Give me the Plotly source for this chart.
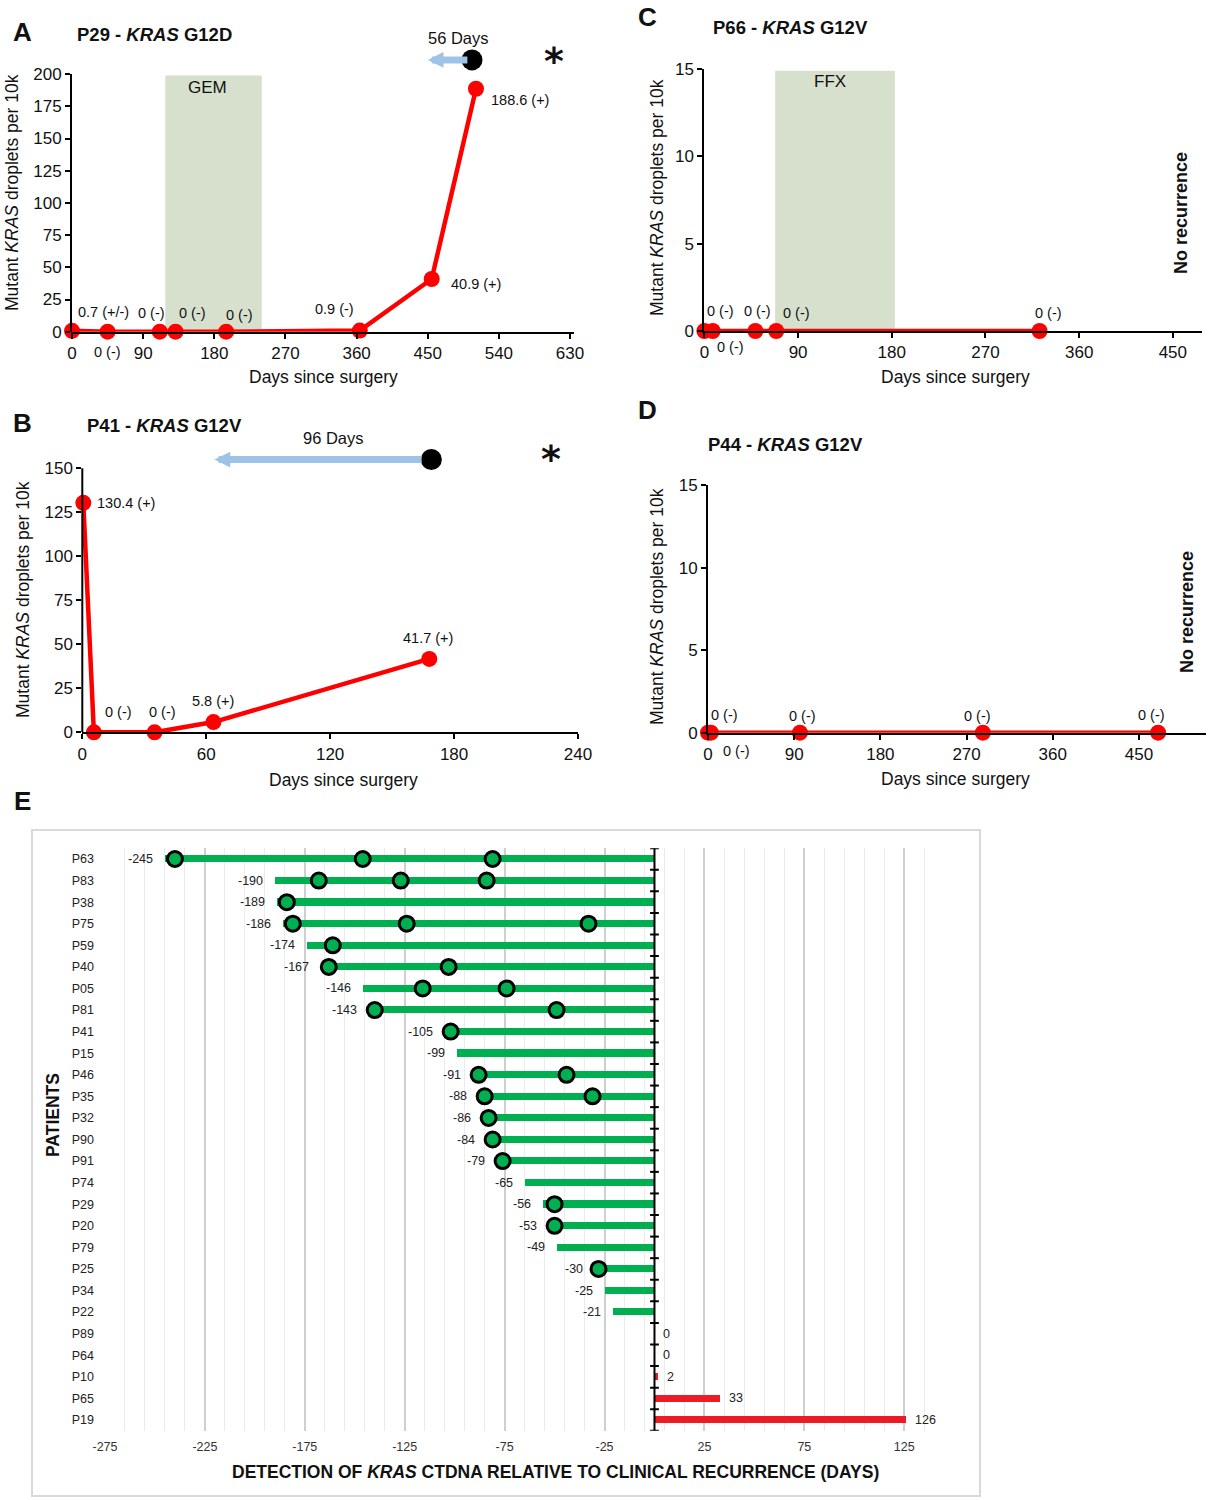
import plotly.graph_objects as go

W, H = 1211, 1500
FONT = "Liberation Sans, Arial, sans-serif"
RED = "#ff0000"
BAR_RED = "#ed1c24"
GREEN = "#00b050"
BOX = "#d6e0cc"
ARROW = "#9dc3e6"

# ---- Panel A : P29 - KRAS G12D
a_days = [0, 45, 111, 131, 195, 364, 455, 511]
a_vals = [0.7, 0, 0, 0, 0, 0.9, 40.9, 188.6]
a_text = ["0.7 (+/-)", "0 (-)", "0 (-)", "0 (-)", "0 (-)", "0.9 (-)", "40.9 (+)", "188.6 (+)"]
a_gem = [118, 240]
a_recur = 506
a_arrow_tip = 450

# ---- Panel B : P41 - KRAS G12V
b_days = [0.5, 5.6, 35, 63.5, 168]
b_vals = [130.4, 0, 0, 5.8, 41.7]
b_text = ["130.4 (+)", "0 (-)", "0 (-)", "5.8 (+)", "41.7 (+)"]
b_recur = 169
b_arrow_tip = 64

# ---- Panel C : P66 - KRAS G12V
c_days = [0, 8, 49, 69, 322]
c_vals = [0, 0, 0, 0, 0]
c_text = ["0 (-)"] * 5
c_ffx = [68, 183]

# ---- Panel D : P44 - KRAS G12V
d_days = [0, 3, 96, 287, 470]
d_vals = [0, 0, 0, 0, 0]
d_text = ["0 (-)"] * 5

# ---- Panel E : lead time per patient
patients = ["P63", "P83", "P38", "P75", "P59", "P40", "P05", "P81", "P41", "P15",
            "P46", "P35", "P32", "P90", "P91", "P74", "P29", "P20", "P79", "P25",
            "P34", "P22", "P89", "P64", "P10", "P65", "P19"]
lead_days = [-245, -190, -189, -186, -174, -167, -146, -143, -105, -99,
             -91, -88, -86, -84, -79, -65, -56, -53, -49, -30,
             -25, -21, 0, 0, 2, 33, 126]
detections = [[-240, -146, -81], [-168, -127, -84], [-184], [-181, -124, -33],
              [-161], [-163, -103], [-116, -74], [-140, -49], [-102], [],
              [-88, -44], [-85, -31], [-83], [-81], [-76], [], [-50], [-50], [],
              [-28], [], [], [], [], [], [], []]
e_ticks = list(range(-275, 126, 50))

# label pixel offsets (style only)
a_off = [(31, -19), (0, 20), (-8, -19), (17, -19), (13, -17), (-25, -22), (44, 5), (44, 11)]
b_off = [(43, 0), (25, -20), (8, -20), (0, -21), (-1, -21)]
c_off = [(26, 16), (8, -20), (2, -20), (20, -18), (9, -18)]
d_off = [(28, 18), (14, -18), (3, -17), (-5, -17), (-7, -18)]


def px(x):
    return x / W


def py(y):
    return 1 - y / H


annots = []
shapes = []


def ptext(x, y, text, size, angle=0, family=None):
    f = dict(size=size, color="#111")
    if family:
        f["family"] = family
    annots.append(dict(x=px(x), y=py(y), xref="paper", yref="paper", text=text, showarrow=False,
                       xanchor="center", yanchor="middle", textangle=angle, font=f))


fig = go.Figure()

panels = [
    ("x", "y", a_days, a_vals, a_text, a_off),
    ("x2", "y2", b_days, b_vals, b_text, b_off),
    ("x3", "y3", c_days, c_vals, c_text, c_off),
    ("x4", "y4", d_days, d_vals, d_text, d_off),
]
for xr, yr, days, vals, texts, offs in panels:
    fig.add_trace(go.Scatter(
        x=days, y=vals, xaxis=xr, yaxis=yr, mode="lines+markers",
        line=dict(color=RED, width=4.5), marker=dict(color=RED, size=16),
        cliponaxis=False, hoverinfo="skip"))
    for d, v, t, (dx, dy) in zip(days, vals, texts, offs):
        annots.append(dict(x=d, y=v, xref=xr, yref=yr, text=t, showarrow=False,
                           xanchor="center", yanchor="middle",
                           xshift=dx, yshift=-dy, font=dict(size=14.5, color="#111")))

# y axis lines of A and B stop at the top tick (room above for the recurrence marks)
shapes.append(dict(type="line", xref="x domain", yref="y", x0=0, x1=0, y0=0, y1=200,
                   line=dict(color="black", width=2)))
shapes.append(dict(type="line", xref="x2 domain", yref="y2", x0=0, x1=0, y0=0, y1=150,
                   line=dict(color="black", width=2)))

# treatment boxes
shapes.append(dict(type="rect", xref="x", yref="y", x0=a_gem[0], x1=a_gem[1], y0=0, y1=199,
                   fillcolor=BOX, line=dict(width=0), layer="below"))
shapes.append(dict(type="rect", xref="x3", yref="y3", x0=c_ffx[0], x1=c_ffx[1], y0=0, y1=14.9,
                   fillcolor=BOX, line=dict(width=0), layer="below"))
ptext(207, 88, "GEM", 17)
ptext(830, 82, "FFX", 17)

# recurrence dots and lead-time arrows
for xr, yr, rec, tip, yv, lbl, lxy in [("x", "y", a_recur, a_arrow_tip, 211, "56 Days", (458, 38)),
                                        ("x2", "y2", b_recur, b_arrow_tip, 155, "96 Days", (333, 438))]:
    annots.append(dict(x=tip, y=yv, ax=rec - 4, ay=yv, xref=xr, yref=yr, axref=xr, ayref=yr,
                       showarrow=True, arrowhead=2, arrowsize=0.45, arrowwidth=7, arrowcolor=ARROW,
                       text=""))
    fig.add_trace(go.Scatter(x=[rec], y=[yv], xaxis=xr, yaxis=yr, mode="markers",
                             marker=dict(color="black", size=21), cliponaxis=False, hoverinfo="skip"))
    ptext(lxy[0], lxy[1], lbl, 16.5)

ptext(554, 61, "<b>*</b>", 38, family="DejaVu Sans")
ptext(551, 459, "<b>*</b>", 38, family="DejaVu Sans")

# panel E bars and detection circles
ys = list(range(len(patients)))
fig.add_trace(go.Bar(x=lead_days, y=ys, orientation="h", width=0.33, xaxis="x5", yaxis="y5",
                     marker=dict(color=[GREEN if v < 0 else BAR_RED for v in lead_days], line=dict(width=0)),
                     hoverinfo="skip"))
cx, cy = [], []
for i, pts in enumerate(detections):
    cx += pts
    cy += [i] * len(pts)
fig.add_trace(go.Scatter(x=cx, y=cy, xaxis="x5", yaxis="y5", mode="markers",
                         marker=dict(color=GREEN, size=15, line=dict(color="black", width=3)),
                         cliponaxis=False, hoverinfo="skip"))
for i, v in enumerate(lead_days):
    neg = v < 0
    annots.append(dict(x=v, y=i, xref="x5", yref="y5", text=str(v), showarrow=False,
                       xanchor="right" if neg else "left", yanchor="middle",
                       xshift=-10 if neg else 7, font=dict(size=12.5, color="#222")))

# zero axis with ticks between rows
shapes.append(dict(type="line", xref="x5", yref="y5", x0=0, x1=0, y0=-0.5, y1=len(patients) - 0.5,
                   line=dict(color="black", width=2)))
for k in range(len(patients) + 1):
    shapes.append(dict(type="line", xref="x5", yref="y5", x0=-2.2, x1=2.2, y0=k - 0.5, y1=k - 0.5,
                       line=dict(color="black", width=2)))
# frame around panel E
shapes.append(dict(type="rect", xref="paper", yref="paper", x0=px(32), x1=px(980), y0=py(1496), y1=py(830),
                   line=dict(color="#d9d9d9", width=2), fillcolor="rgba(0,0,0,0)"))

# titles and labels
for t, xx, yy in [("<b>P29 - <i>KRAS</i> G12D</b>", 155, 35), ("<b>P41 - <i>KRAS</i> G12V</b>", 164, 425),
                  ("<b>P66 - <i>KRAS</i> G12V</b>", 790, 27), ("<b>P44 - <i>KRAS</i> G12V</b>", 786, 445)]:
    ptext(xx, yy, t, 18.5)
for t, xx, yy in [("A", 22, 32), ("B", 22, 423), ("C", 647, 17), ("D", 647, 410), ("E", 22, 801)]:
    ptext(xx, yy, "<b>%s</b>" % t, 26)
ytitle = "Mutant <i>KRAS</i> droplets per 10k"
for xx, yy in [(12, 193), (23, 600), (657, 198), (657, 607)]:
    ptext(xx, yy, ytitle, 17.5, angle=-90)
for xx, yy in [(323, 377), (343, 780), (955, 377), (955, 779)]:
    ptext(xx, yy, "Days since surgery", 17.5)
for xx, yy in [(1181, 213), (1187, 612)]:
    ptext(xx, yy, "<b>No recurrence</b>", 18, angle=-90)
ptext(53, 1115, "<b>PATIENTS</b>", 17.5, angle=-90)
ptext(555, 1472, "<b>DETECTION OF <i>KRAS</i> CTDNA RELATIVE TO CLINICAL RECURRENCE (DAYS)</b>", 17.5)

ax_common = dict(showline=True, linecolor="black", linewidth=2, ticks="outside", ticklen=5, tickwidth=1.5,
                 tickcolor="black", showgrid=False, zeroline=False, automargin=False,
                 tickfont=dict(size=17, color="#111"))
ay_open = dict(ax_common, showline=False)

fig.update_layout(
    width=W, height=H, margin=dict(l=0, r=0, t=0, b=0, autoexpand=False),
    paper_bgcolor="white", plot_bgcolor="white", showlegend=False,
    font=dict(family=FONT, color="#111"),
    xaxis=dict(ax_common, domain=[px(71), px(574)], range=[-1.3, 635], tickvals=list(range(0, 631, 90)), anchor="y"),
    yaxis=dict(ay_open, domain=[py(331.7), py(41.9)], range=[0, 225], tickvals=list(range(0, 201, 25)), anchor="x"),
    xaxis2=dict(ax_common, domain=[px(82.3), px(578)], range=[0, 240], dtick=60, anchor="y2"),
    yaxis2=dict(ay_open, domain=[py(732.3), py(441.9)], range=[0, 165], tickvals=list(range(0, 151, 25)), anchor="x2"),
    xaxis3=dict(ax_common, domain=[px(704.4), px(1202)], range=[0, 478], tickvals=list(range(0, 451, 90)), anchor="y3"),
    yaxis3=dict(ax_common, domain=[py(331), py(69)], range=[0, 15], dtick=5, anchor="x3"),
    xaxis4=dict(ax_common, domain=[px(708), px(1206)], range=[0, 520], tickvals=list(range(0, 451, 90)), anchor="y4"),
    yaxis4=dict(ax_common, domain=[py(732.7), py(485)], range=[0, 15], dtick=5, anchor="x4"),
    xaxis5=dict(domain=[px(105), px(944.2)], range=[-275, 145], tickvals=e_ticks,
                ticktext=[str(t) for t in e_ticks], ticks="", ticklabelstandoff=7, automargin=False,
                showgrid=True, gridcolor="#cfcfcf", gridwidth=1.5, zeroline=False, showline=False,
                minor=dict(tick0=-275, dtick=10, showgrid=True, gridcolor="#ebebeb", gridwidth=1),
                tickfont=dict(size=12.5, color="#333"), anchor="y5"),
    yaxis5=dict(domain=[py(1430.8), py(848.2)], range=[len(patients) - 0.5, -0.5], automargin=False,
                tickvals=ys, ticktext=patients, ticks="", ticklabelstandoff=10, showgrid=False,
                zeroline=False, showline=False, tickfont=dict(size=12.5, color="#222"), anchor="x5"),
    annotations=annots, shapes=shapes, bargap=0,
)

fig.write_html("out.html", config={"displayModeBar": False},
               post_script="document.body.style.margin='0px';")
